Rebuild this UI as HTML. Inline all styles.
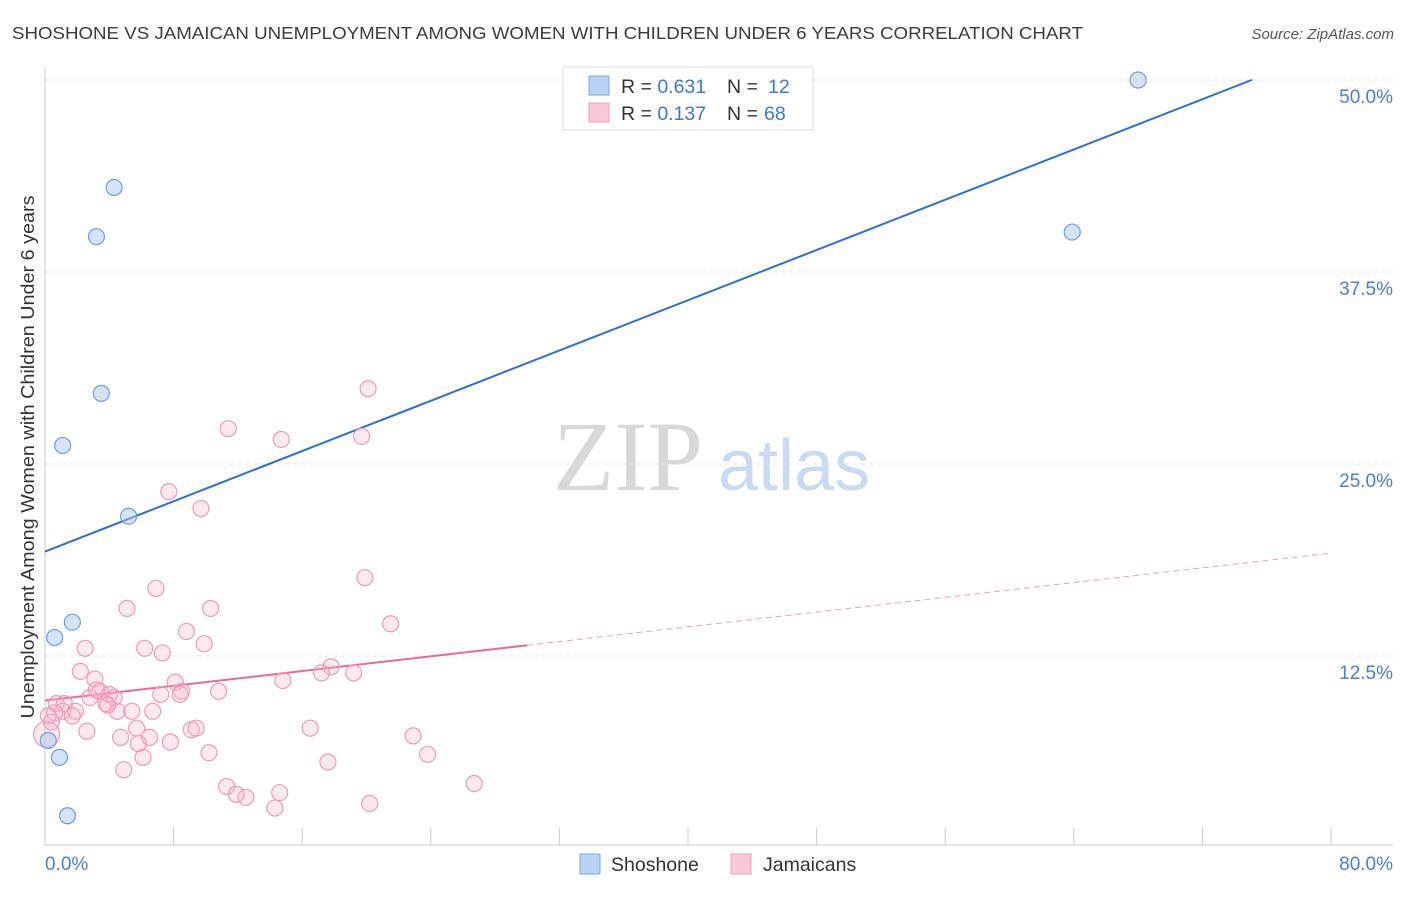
<!DOCTYPE html>
<html><head><meta charset="utf-8"><style>
body{margin:0;background:#fff;font-family:"Liberation Sans",sans-serif}
</style></head><body>
<svg id="c" width="1406" height="892" xmlns="http://www.w3.org/2000/svg">
<text x="12" y="39" font-size="17.5" fill="#3c3c3c" textLength="1071" lengthAdjust="spacingAndGlyphs">SHOSHONE VS JAMAICAN UNEMPLOYMENT AMONG WOMEN WITH CHILDREN UNDER 6 YEARS CORRELATION CHART</text>
<text x="1394" y="39" font-size="15" font-style="italic" fill="#555" text-anchor="end">Source: ZipAtlas.com</text>
<text transform="translate(34,457) rotate(-90)" font-size="18" fill="#333" text-anchor="middle" textLength="523" lengthAdjust="spacingAndGlyphs">Unemployment Among Women with Children Under 6 years</text>
<g>
<text x="553" y="490" font-family="Liberation Serif,serif" font-size="100" fill="#d8d8d8">ZIP</text>
<text x="718" y="490" font-size="72" fill="#c9dbf2">atlas</text>
</g>
<g id="grid"></g><g id="axes"></g><g id="trends"></g><g id="pts"></g>
<g>
<rect x="563" y="67" width="250" height="63" fill="#fff" stroke="#ddd"/>
<rect x="589" y="76" width="20" height="19" fill="#b8d3f5" stroke="#7da8e0"/>
<rect x="589" y="103" width="20" height="19" fill="#f9c9d8" stroke="#ef9fba"/>
<text x="621" y="93" font-size="19.5" fill="#333">R = <tspan fill="#3b78d8">0.631</tspan><tspan x="727">N = </tspan><tspan fill="#3b78d8" x="768">12</tspan></text>
<text x="621" y="120" font-size="19.5" fill="#333">R = <tspan fill="#3b78d8">0.137</tspan><tspan x="727">N = </tspan><tspan fill="#3b78d8" x="764">68</tspan></text>
</g>
<g>
<rect x="580" y="854" width="20" height="20" fill="#b8d3f5" stroke="#7da8e0"/>
<text x="611" y="871" font-size="19.5" fill="#333">Shoshone</text>
<rect x="731" y="854" width="20" height="20" fill="#f9c9d8" stroke="#ef9fba"/>
<text x="763" y="871" font-size="19.5" fill="#333">Jamaicans</text>
</g>
</svg>
<script>
const NS="http://www.w3.org/2000/svg";
const yTicks=[12.5,25,37.5,50];
const yTickLabels=["12.5%","25.0%","37.5%","50.0%"];
const xTicks=[0,8,16,24,32,40,48,56,64,72,80];
const xTickLabels=["0.0%","80.0%"];
const shoX=[4.3,3.2,3.5,1.1,5.2,1.7,0.6,0.2,0.9,1.4,68.0,63.9];
const shoY=[43.0,39.8,29.6,26.2,21.6,14.7,13.7,7.0,5.9,2.1,50.0,40.1];
const jamX=[20.1,11.4,14.7,19.7,7.7,9.7,19.9,6.9,5.1,10.3,21.5,8.8,9.9,6.2,7.3,2.5,2.2,17.8,17.2,19.2,14.8,3.1,8.1,8.5,10.8,7.2,3.4,4.3,2.8,3.8,0.7,1.2,1.1,1.9,0.6,4.5,5.4,6.7,1.7,0.4,0.1,2.6,9.1,9.4,16.5,5.7,4.7,6.5,5.8,7.8,22.9,10.2,23.8,6.1,17.6,4.9,11.3,26.7,11.9,12.5,14.6,20.2,14.3,0.2,4.0,3.2,8.4,3.9];
const jamY=[29.9,27.3,26.6,26.8,23.2,22.1,17.6,16.9,15.6,15.6,14.6,14.1,13.3,13.0,12.7,13.0,11.5,11.8,11.4,11.4,10.9,11.0,10.8,10.2,10.2,10.0,10.2,9.8,9.8,9.4,9.4,9.4,8.9,8.9,8.8,8.9,8.9,8.9,8.6,8.2,7.4,7.6,7.7,7.8,7.8,7.8,7.2,7.2,6.8,6.9,7.3,6.2,6.1,5.9,5.6,5.1,4.0,4.2,3.5,3.3,3.6,2.9,2.6,8.6,10.0,10.3,10.0,9.3];
const shoTrend=[19.3,0.409,75.1];
const jamTrend=[9.6,0.12,30,80];
const X=v=>45+v/80*1286, Y=v=>848-v/50*768;
function mk(t,a,p){const e=document.createElementNS(NS,t);for(const k in a)e.setAttribute(k,a[k]);p.appendChild(e);return e;}
const g=document.getElementById('grid'),ax=document.getElementById('axes'),tr=document.getElementById('trends'),pts=document.getElementById('pts');
yTicks.forEach((v,i)=>{
 const l=mk('line',{x1:45,x2:1393,y1:Y(v),y2:Y(v),stroke:'#e2e2e2','stroke-dasharray':'4,4'},g);
 
 
 const t=mk('text',{x:1393,y:Y(v)+23,'font-size':19,fill:'#4a7fd4','text-anchor':'end'},ax);
 t.textContent=yTickLabels[i];
 
 
});
const la=mk('line',{x1:45,x2:45,y1:68,y2:845,stroke:'#ccc'},ax);


const lb=mk('line',{x1:45,x2:1393,y1:845,y2:845,stroke:'#ccc'},ax);


xTicks.forEach(v=>{
 const l=mk('line',{x1:X(v),x2:X(v),y1:828,y2:845,stroke:'#ccc'},ax);
 
 
});
const t0=mk('text',{x:45,y:870,'font-size':19,fill:'#4a7fd4'},ax);t0.textContent=xTickLabels[0];


const t1=mk('text',{x:1393,y:870,'font-size':19,fill:'#4a7fd4','text-anchor':'end'},ax);t1.textContent=xTickLabels[1];


const bl=mk('line',{x1:X(0),y1:Y(shoTrend[0]),x2:X(shoTrend[2]),y2:Y(shoTrend[0]+shoTrend[1]*shoTrend[2]),stroke:'#2f6fd6','stroke-width':2},tr);


const pl=mk('line',{x1:X(0),y1:Y(jamTrend[0]),x2:X(jamTrend[2]),y2:Y(jamTrend[0]+jamTrend[1]*jamTrend[2]),stroke:'#e8699a','stroke-width':2},tr);


const pd=mk('line',{x1:X(jamTrend[2]),y1:Y(jamTrend[0]+jamTrend[1]*jamTrend[2]),x2:X(jamTrend[3]),y2:Y(jamTrend[0]+jamTrend[1]*jamTrend[3]),stroke:'#eea0bc','stroke-width':1,'stroke-dasharray':'6,4'},tr);


jamX.forEach((v,i)=>{
 const c=mk('circle',{cx:X(v),cy:Y(jamY[i]),r:i==40?13:8,fill:'rgba(246,178,202,0.3)',stroke:'#ee9ab8','stroke-width':1.2},pts);
 
 
});
shoX.forEach((v,i)=>{
 const c=mk('circle',{cx:X(v),cy:Y(shoY[i]),r:8,fill:'rgba(170,200,240,0.5)',stroke:'#6f9fdc','stroke-width':1.2},pts);
 
 
});
</script>
</body></html>
